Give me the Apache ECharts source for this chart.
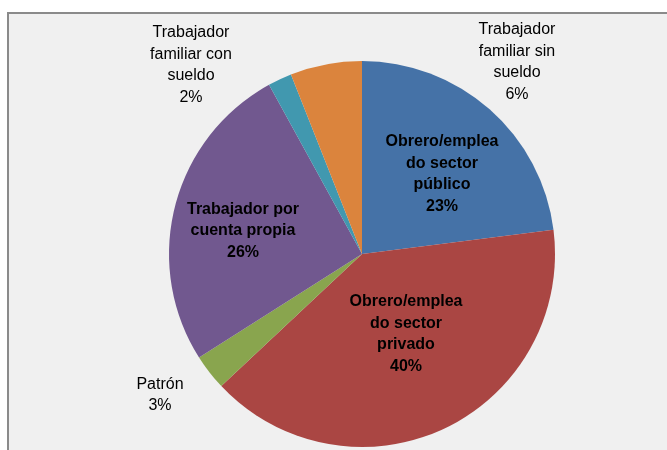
<!DOCTYPE html>
<html>
<head>
<meta charset="utf-8">
<script src="https://cdn.jsdelivr.net/npm/echarts@6/dist/echarts.min.js"></script>
<style>
  html, body { margin: 0; padding: 0; background: #ffffff; }
  #chart { width: 667px; height: 450px; }
</style>
</head>
<body>
<div id="chart"></div>
<script>
// categorias (con los saltos de linea del grafico original)
var categories = [
  'Obrero/emplea\ndo sector\npúblico',
  'Obrero/emplea\ndo sector\nprivado',
  'Patrón',
  'Trabajador por\ncuenta propia',
  'Trabajador\nfamiliar con\nsueldo',
  'Trabajador\nfamiliar sin\nsueldo'
];
// porcentajes
var values = [23, 40, 3, 26, 2, 6];
var colors = ['#4572A7', '#AA4643', '#89A54E', '#71588F', '#4198AF', '#DB843D'];
// etiquetas dentro del sector (negrita) o fuera
var insideLabel = [true, true, false, true, false, false];
// centro de cada etiqueta en px
var labelPos = [[442, 174], [406, 334], [160, 395], [243, 231], [191, 65], [517, 62]];

var chart = echarts.init(document.getElementById('chart'));

var seriesData = categories.map(function (name, i) {
  return {
    name: name,
    value: values[i],
    itemStyle: { color: colors[i] },
    label: {
      fontWeight: insideLabel[i] ? 'bold' : 'normal'
    }
  };
});

var option = {
  backgroundColor: '#ffffff',
  animation: false,
  graphic: [{
    type: 'rect',
    shape: { x: 8, y: 13, width: 700, height: 460 },
    style: { fill: '#f0f0f0', stroke: '#8a8a8a', lineWidth: 2 },
    z: -10
  }],
  series: [{
    type: 'pie',
    center: [362, 254],
    radius: 193,
    startAngle: 90,
    clockwise: true,
    data: seriesData,
    label: {
      show: true,
      position: 'outside',
      formatter: function (p) {
        return p.name + '\n' + p.value + '%';
      },
      fontFamily: '"Liberation Sans", Arial, sans-serif',
      fontSize: 16,
      lineHeight: 21.5,
      color: '#000000',
      align: 'center',
      overflow: 'none',
      width: 200
    },
    labelLine: { show: false },
    labelLayout: function (params) {
      var p = labelPos[params.dataIndex];
      return { x: p[0], y: p[1], align: 'center', verticalAlign: 'middle' };
    },
    emphasis: { disabled: true }
  }]
};

chart.setOption(option);
</script>
</body>
</html>
